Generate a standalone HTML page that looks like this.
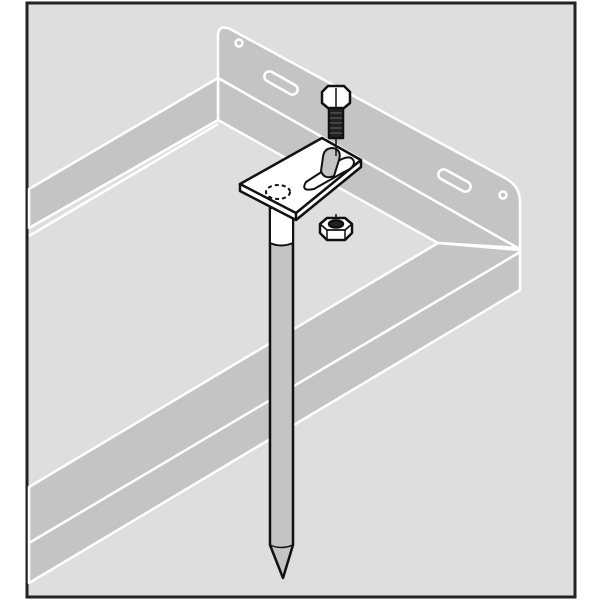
<!DOCTYPE html>
<html><head><style>html,body{margin:0;padding:0;background:#fff}svg{display:block}</style></head>
<body>
<svg width="600" height="600" viewBox="0 0 600 600" xmlns="http://www.w3.org/2000/svg">
<rect x="27" y="3" width="548" height="594" fill="#dedede" stroke="#222" stroke-width="3"/>
<g stroke="#fff" stroke-width="2.5" stroke-linejoin="round" fill="#c4c4c4">
 <path d="M218,78 L218,36 Q218,24 230,29 L505,178 Q520,186 520,202 L520,250 L218,78 Z"/>
 <path d="M218,78 L518,248 L438,243 L218,120 Z"/>
 <path d="M29,189 L218,78 L218,120 L29,228 Z"/>
 <line x1="29" y1="236" x2="218" y2="124" fill="none"/>
 <path d="M29,487 L438,243 L520,250 L520,290 L29,583 Z"/>
 <line x1="29" y1="543" x2="520" y2="252" fill="none"/>
 <circle cx="239" cy="43" r="3.5"/>
 <circle cx="503" cy="195" r="3.5"/>
 <path d="M272,72 L295,85 A5,5 0 0 1 290,94 L267,81 A5,5 0 0 1 272,72 Z"/>
 <path d="M446,170 L468,182 A5,5 0 0 1 463,191 L441,179 A5,5 0 0 1 446,170 Z"/>
</g>
<g stroke="#111" stroke-width="2.5" stroke-linejoin="round">
 <path d="M270,208 L270,545 L283,578 L293,545 L293,208 Z" fill="#c4c4c4"/>
 <path d="M270,208 L270,243 Q281,248 293,243 L293,208 Z" fill="#fff" stroke-width="2"/>
 <path d="M270,545 Q281,550 293,545" fill="none" stroke-width="1.5"/>
 <path d="M240,184 L240,191 L296,220 L361,167 L361,160 Z" fill="#fff"/>
 <path d="M240,184 L322,138 L361,160 L296,213 Z" fill="#fff"/>
 <line x1="296" y1="213" x2="296" y2="220"/>
 <path d="M306,182 L340,160 Q352,154 354,162 Q354,168 344,172 L314,189 Q300,192 306,182 Z" fill="#fff" stroke-width="2"/>
 <path d="M323,157 Q324,148 333,148 Q342,150 339,160 L334,176 Q324,180 321,171 Z" fill="#c4c4c4" stroke-width="2"/>
 <ellipse cx="278" cy="192" rx="12" ry="7" fill="none" stroke-width="2" stroke-dasharray="4,3"/>
 <line x1="336" y1="138" x2="336" y2="156" stroke-width="1.5"/>
 <rect x="329" y="107" width="14" height="31" fill="#222"/>
 <g stroke="#666" stroke-width="1"><line x1="330" y1="113" x2="342" y2="113"/><line x1="330" y1="118" x2="342" y2="118"/><line x1="330" y1="123" x2="342" y2="123"/><line x1="330" y1="128" x2="342" y2="128"/><line x1="330" y1="133" x2="342" y2="133"/></g>
 <path d="M322,92 L328,86 L344,86 L350,92 L350,103 L344,108 L328,108 L322,103 Z" fill="#fff"/>
 <line x1="336" y1="88" x2="336" y2="108" stroke-width="1.5"/>
 <line x1="336" y1="214" x2="336" y2="220" stroke-width="1.5"/>
 <path d="M320,224 L327,218 L345,218 L352,224 L352,233 L345,240 L327,240 L320,233 Z" fill="#fff"/>
 <path d="M320,224 L327,230 L345,230 L352,224" fill="none" stroke-width="1.8"/>
 <line x1="327" y1="230" x2="327" y2="240" stroke-width="1.5"/>
 <line x1="345" y1="230" x2="345" y2="240" stroke-width="1.5"/>
 <ellipse cx="336" cy="224" rx="7" ry="3.5" fill="#222"/>
</g>
</svg>
</body></html>
